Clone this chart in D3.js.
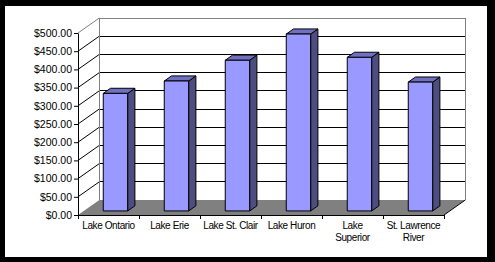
<!DOCTYPE html>
<html>
<head>
<meta charset="utf-8">
<script src="https://cdn.jsdelivr.net/npm/d3@7"></script>
<style>
  body { margin: 0; background: #000; }
  svg { display: block; }
  text { font-family: "Liberation Sans", Arial, sans-serif; fill: #000; }
</style>
</head>
<body>
<svg id="chart"></svg>
<script>
// data
const categories = ["Lake Ontario", "Lake Erie", "Lake St. Clair", "Lake Huron", "Lake Superior", "St. Lawrence River"];
const labelLines = [["Lake Ontario"], ["Lake Erie"], ["Lake St. Clair"], ["Lake Huron"], ["Lake", "Superior"], ["St. Lawrence", "River"]];
const values = [323, 357, 414, 486, 422, 354];
const yTicks = [0, 50, 100, 150, 200, 250, 300, 350, 400, 450, 500];

const W = 495, H = 262;
const svg = d3.select("#chart").attr("width", W).attr("height", H);

// white chart area inside the black frame
svg.append("rect").attr("x", 5).attr("y", 6).attr("width", 482).attr("height", 251).attr("fill", "#fff");

// 3d depth offset (back wall vs front plane)
const DX = 21.3, DY = -15;
const proj = (x, y, t) => [x + DX * t, y + DY * t];

const x = d3.scaleBand().domain(categories).range([78, 444]).paddingInner(0.6).paddingOuter(0.3);
const xEdge = d3.scaleBand().domain(categories).range([78, 444]);
const y = d3.scaleLinear().domain([0, 500]).range([215, 33]);

const g = svg.append("g");
const line = d3.line();

// floor
g.append("path")
    .attr("d", line([proj(78, y(0), 0), proj(444, y(0), 0), proj(444, y(0), 1), proj(78, y(0), 1)]) + "Z")
    .attr("fill", "#808080");

// back wall gridlines
g.selectAll(".grid").data(yTicks.filter(d => d > 0 && d < 500)).enter().append("path")
    .attr("d", d => line([proj(78, y(d), 1), proj(444, y(d), 1)]))
    .attr("stroke", "#000").attr("fill", "none").attr("shape-rendering", "crispEdges");

// side wall lines
g.selectAll(".side").data(yTicks.filter(d => d > 0)).enter().append("path")
    .attr("d", d => line([proj(78, y(d), 0), proj(78, y(d), 1)]))
    .attr("stroke", d => d === 500 ? "#808080" : "#000").attr("fill", "none");

// back wall outline
g.append("path")
    .attr("d", line([proj(78, y(0), 1), proj(78, y(500), 1), proj(444, y(500), 1), proj(444, y(0), 1)]))
    .attr("stroke", "#808080").attr("fill", "none").attr("shape-rendering", "crispEdges");

// right floor edge
g.append("path")
    .attr("d", line([proj(444, y(0), 0), proj(444, y(0), 1)]))
    .attr("stroke", "#000").attr("fill", "none");

// bars
const t0 = 0.27, t1 = 0.61;
const bw = x.bandwidth();
const bars = g.selectAll(".bar").data(categories).enter().append("g");
bars.each(function(c, i) {
    const b = d3.select(this);
    const xl = x(c) + 1.2, xr = xl + bw;
    const yt = y(values[i]), yb = y(0);
    const f = p => proj(p[0], p[1], t0), k = p => proj(p[0], p[1], t1);
    const poly = pts => line(pts) + "Z";
    b.append("path").attr("d", poly([f([xr, yt]), k([xr, yt]), k([xr, yb]), f([xr, yb])]))
        .attr("fill", "#4d4d80").attr("stroke", "#000");
    b.append("path").attr("d", poly([f([xl, yt]), k([xl, yt]), k([xr, yt]), f([xr, yt])]))
        .attr("fill", "#7070c0").attr("stroke", "#000");
    b.append("path").attr("d", poly([f([xl, yt]), f([xr, yt]), f([xr, yb]), f([xl, yb])]))
        .attr("fill", "#9999ff").attr("stroke", "#000");
});

// y axis
const yAxis = g.append("g").attr("transform", "translate(78,0)")
    .call(d3.axisLeft(y).tickValues(yTicks).tickFormat(d3.format("$.2f")).tickSize(4).tickSizeOuter(0).tickPadding(2));
yAxis.select(".domain").attr("stroke", "#000");
yAxis.selectAll("text").attr("font-size", "10.5px").attr("font-family", "Liberation Sans, Arial, sans-serif").attr("fill", "#000");

// x axis
const xAxis = g.append("g").attr("transform", `translate(0,${y(0)})`);
xAxis.append("path").attr("d", line([[78, 0], [444, 0]])).attr("stroke", "#000").attr("shape-rendering", "crispEdges");
xAxis.selectAll(".tk").data(categories.concat(["end"])).enter().append("path")
    .attr("d", (d, i) => { const xx = i < categories.length ? xEdge(d) : 444; return line([[xx, 0], [xx, 4]]); })
    .attr("stroke", "#000").attr("shape-rendering", "crispEdges");
xAxis.selectAll(".lbl").data(categories).enter().append("text")
    .attr("x", d => xEdge(d) + xEdge.bandwidth() / 2)
    .attr("y", 14)
    .attr("text-anchor", "middle")
    .attr("font-size", "10px")
    .attr("letter-spacing", "-0.4px")
    .each(function(d, i) {
        const t = d3.select(this);
        labelLines[i].forEach((s, j) => t.append("tspan").attr("x", xEdge(d) + xEdge.bandwidth() / 2).attr("dy", j ? 12 : 0).text(s));
    });
</script>
</body>
</html>
